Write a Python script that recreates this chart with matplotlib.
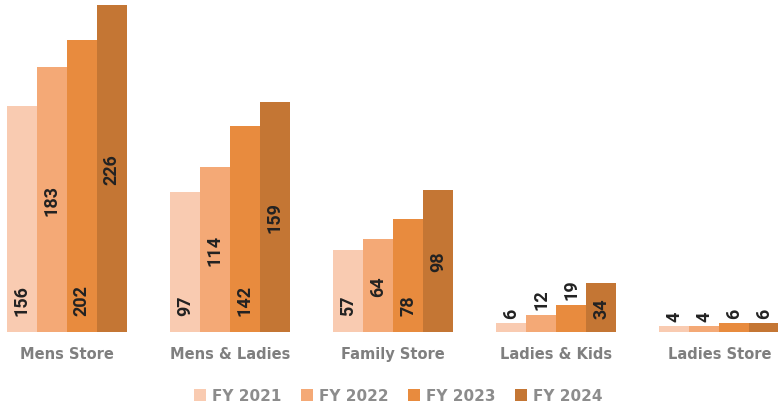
import matplotlib
matplotlib.use("Agg")
import matplotlib.pyplot as plt
import numpy as np

categories = ["Mens Store", "Mens & Ladies", "Family Store", "Ladies & Kids", "Ladies Store"]
series_names = ["FY 2021", "FY 2022", "FY 2023", "FY 2024"]
fy2021 = [156, 97, 57, 6, 4]
fy2022 = [183, 114, 64, 12, 4]
fy2023 = [202, 142, 78, 19, 6]
fy2024 = [226, 159, 98, 34, 6]
colors = ["#F9CBB1", "#F4A976", "#E88B3E", "#C47634"]

series = [fy2021, fy2022, fy2023, fy2024]

fig = plt.figure(figsize=(7.78, 4.10), dpi=100)
ax = fig.add_axes([0, 77 / 410, 1, 333 / 410])
x = np.arange(len(categories))
w = 0.1837
ymax = 230.1
for i, (vals, c, name) in enumerate(zip(series, colors, series_names)):
    pos = x + (i - 1.5) * w
    ax.bar(pos, vals, width=w, color=c, label=name, linewidth=0)
    for xp, v in zip(pos, vals):
        kw = dict(rotation=90, ha="center", fontsize=13, fontweight="bold",
                  color="#222222", family="Roboto")
        if v < 30:
            ax.annotate(str(v), (xp, v), xytext=(0, 4), textcoords="offset points",
                        va="bottom", **kw)
        elif i in (0, 2):
            ax.annotate(str(v), (xp, 0), xytext=(0, 12.5), textcoords="offset points",
                        va="bottom", **kw)
        else:
            ax.text(xp, v / 2, str(v), va="center", **kw)

ax.set_xlim(-0.41, 4.36)
ax.set_ylim(0, ymax)
ax.set_yticks([])
ax.set_xticks(x)
ax.set_xticklabels(categories, fontsize=10.5, color="#7F7F7F", fontweight="bold")
ax.tick_params(axis="x", length=0, pad=10)
for s in ax.spines.values():
    s.set_visible(False)

leg = fig.legend(loc="center", bbox_to_anchor=(0.512, 0.032), ncol=4, frameon=False,
                 handlelength=0.75, handleheight=0.75, handletextpad=0.4, columnspacing=1.3,
                 prop={"size": 11, "weight": "bold"})
for t in leg.get_texts():
    t.set_color("#8C8C8C")

fig.savefig("out.png", dpi=100)
